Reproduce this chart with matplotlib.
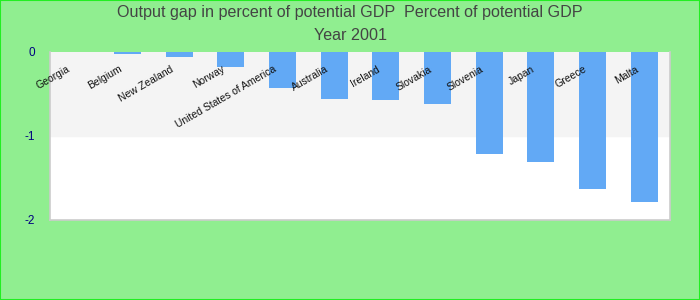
import matplotlib.pyplot as plt
from matplotlib.patches import Rectangle

plt.rcParams['font.family'] = ['Liberation Sans', 'DejaVu Sans']

countries = ['Georgia', 'Belgium', 'New Zealand', 'Norway', 'United States of America',
             'Australia', 'Ireland', 'Slovakia', 'Slovenia', 'Japan', 'Greece', 'Malta']
gap = [0.0, -0.03, -0.07, -0.18, -0.43, -0.56, -0.575, -0.62, -1.215, -1.31, -1.63, -1.79]
yticks = [0, -1, -2]

fig = plt.figure(figsize=(7, 3), dpi=100)
fig.patch.set_facecolor('#90ee90')
fig.patches.append(Rectangle((0, 0), 1, 1, transform=fig.transFigure, fill=False,
                             edgecolor='#22ee22', linewidth=1.5))

ax = fig.add_axes([50 / 700, 80 / 300, 620 / 700, 168.5 / 300])
ax.set_facecolor('white')
ax.axhspan(-1, 0, color='#f4f4f4', zorder=0)

x = list(range(len(countries)))
ax.bar(x, gap, width=0.52, color='#62a9f5', zorder=2)

# labels sit inside the plot, tilted
for i, name in enumerate(countries):
    ax.text(i - 0.13, -0.2, name, rotation=30, rotation_mode='anchor',
            ha='right', va='center', fontsize=7.5, color='#111111', zorder=3)

ax.set_xlim(-0.5, len(countries) - 0.5)
ax.set_ylim(-2, 0)
ax.set_xticks([])
ax.set_yticks(yticks)
ax.set_yticklabels([str(t) for t in yticks], color='#000080', fontsize=8.5)
ax.tick_params(axis='y', length=0, pad=11)
for s in ax.spines.values():
    s.set_color('#cccccc')
    s.set_linewidth(1.2)
ax.spines['top'].set_visible(False)

fig.text(0.5, 1 - 13 / 300, 'Output gap in percent of potential GDP  Percent of potential GDP',
         ha='center', va='center', fontsize=11.6, color='#444444')
fig.text(0.5, 1 - 36 / 300, 'Year 2001', ha='center', va='center', fontsize=11.6, color='#444444')

fig.savefig('out.png', dpi=100, facecolor=fig.get_facecolor())
